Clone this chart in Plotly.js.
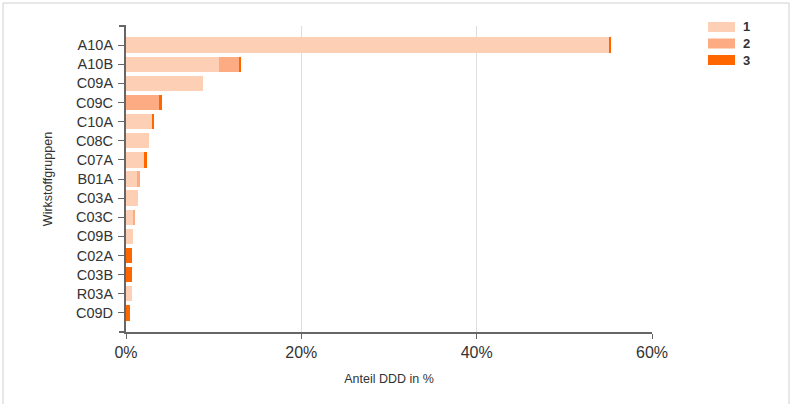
<!DOCTYPE html>
<html>
<head>
<meta charset="utf-8">
<script src="https://cdn.plot.ly/plotly-3.0.1.min.js"></script>
<style>
html,body{margin:0;padding:0;background:#fff;}
#chart{width:790px;height:404px;}
</style>
</head>
<body>
<div id="chart"></div>
<script>
// Data
var categories = ["A10A","A10B","C09A","C09C","C10A","C08C","C07A","B01A","C03A","C03C","C09B","C02A","C03B","R03A","C09D"];
var seriesNames = ["1","2","3"];
var series1 = [55.1, 10.6, 8.8, 0, 3.0, 2.6, 2.1, 1.3, 1.35, 0.85, 0.85, 0, 0, 0.7, 0];
var series2 = [0, 2.4, 0, 3.8, 0, 0, 0, 0.35, 0, 0.15, 0, 0, 0, 0, 0];
var series3 = [0.15, 0.05, 0, 0.27, 0.25, 0, 0.35, 0, 0, 0, 0, 0.65, 0.65, 0, 0.45];
var seriesColors = ["#fdd0b5", "#fdab82", "#ff6600"];
var xTickVals = [0, 20, 40, 60];
var xTickText = ["0%", "20%", "40%", "60%"];

var allSeries = [series1, series2, series3];
var traces = allSeries.map(function(vals, i){
  return {
    type: "bar",
    orientation: "h",
    name: seriesNames[i],
    y: categories,
    x: vals,
    marker: {color: seriesColors[i], line: {width: 0}},
    showlegend: false,
    hovertemplate: "%{y}: %{x}%<extra>" + seriesNames[i] + "</extra>"
  };
});

// plot area geometry (pixels) for paper conversions
var L = 126, R = 652, T = 26, B = 332, W = 790, H = 404;
function px(x){ return (x - L) / (R - L); }
function py(y){ return (B - y) / (B - T); }

var shapes = [
  // outer frame
  {type:"rect", xref:"paper", yref:"paper", x0:px(3), x1:px(789), y0:py(3), y1:py(420),
   line:{color:"#d0d0d0", width:1}, fillcolor:"rgba(0,0,0,0)", layer:"below"},
  // outer end ticks of y axis
  {type:"line", xref:"paper", yref:"paper", x0:px(119), x1:px(126), y0:1, y1:1, line:{color:"#666", width:2}},
  {type:"line", xref:"paper", yref:"paper", x0:px(119), x1:px(126), y0:0, y1:0, line:{color:"#666", width:2}}
];
var annotations = [];
var legendTop = 27, legendStep = 16.5;
seriesNames.forEach(function(n, i){
  var cy = legendTop + i * legendStep;
  shapes.push({type:"rect", xref:"paper", yref:"paper",
    x0:px(708), x1:px(735), y0:py(cy-5), y1:py(cy+5),
    fillcolor:seriesColors[i], line:{width:0}});
  annotations.push({xref:"paper", yref:"paper", x:px(741), y:py(cy), xanchor:"left", yanchor:"middle",
    text:n, showarrow:false, font:{size:13, color:"#333", weight:"bold"}});
});

var layout = {
  width: W, height: H,
  margin: {l: L, r: W - R, t: T, b: H - B, pad: 0},
  paper_bgcolor: "#fff", plot_bgcolor: "#fff",
  font: {family: "Liberation Sans, Arial, sans-serif", color: "#333"},
  barmode: "stack",
  bargap: 0.2,
  showlegend: false,
  xaxis: {
    range: [0, 60],
    tickvals: xTickVals, ticktext: xTickText,
    ticks: "outside", ticklen: 5, tickcolor: "#666", tickwidth: 1,
    showgrid: true, gridcolor: "#dedede", gridwidth: 1,
    zeroline: false,
    showline: true, linecolor: "#666", linewidth: 2,
    tickfont: {size: 16, color: "#333"},
    title: {text: "Anteil DDD in %", font: {size: 12.5, color: "#333"}, standoff: 14},
    fixedrange: true
  },
  yaxis: {
    type: "category",
    categoryorder: "array", categoryarray: categories,
    range: [15, -1],
    ticks: "outside", ticklen: 6, tickcolor: "#666", tickwidth: 1,
    showgrid: false, zeroline: false,
    showline: true, linecolor: "#666", linewidth: 2,
    tickfont: {size: 14.5, color: "#333"},
    ticklabelstandoff: 2,
    title: {text: "Wirkstoffgruppen", font: {size: 12.5, color: "#333"}, standoff: 21},
    fixedrange: true
  },
  shapes: shapes,
  annotations: annotations
};

Plotly.newPlot("chart", traces, layout, {displayModeBar: false, staticPlot: false});
</script>
</body>
</html>
